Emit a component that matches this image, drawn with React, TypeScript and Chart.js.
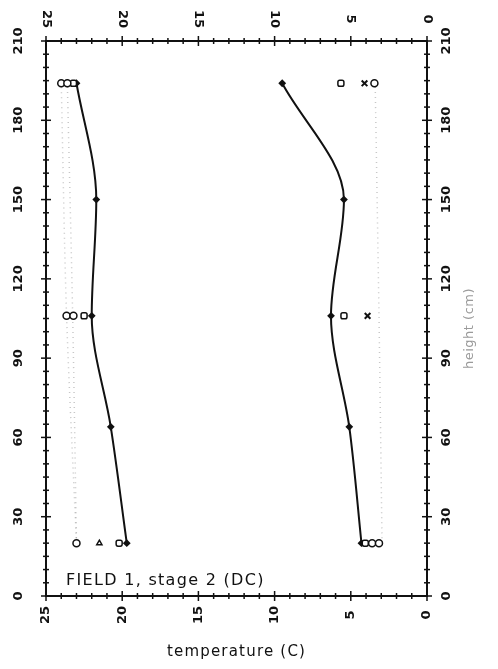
import React, { useEffect, useRef } from "react";
import { Chart, registerables } from "chart.js";

Chart.register(...registerables);

// Measurement heights (cm) of the fitted profiles
const profileHeights = [20, 64, 106, 150, 194];
// Fitted temperature profiles (°C)
const warmProfile = [19.7, 20.75, 22.0, 21.7, 23.0];
const coolProfile = [4.3, 5.1, 6.3, 5.45, 9.5];

// Faint dotted traces
const traceHeights = [20, 106, 194];
const warmTraceA = [23.0, 23.65, 24.0];
const warmTraceB = [23.0, 23.25, 23.6];
const coolTrace = [2.95, 3.15, 3.4];

// Open circles
const circleTemps = [24.0, 23.6, 23.65, 23.2, 23.0, 3.45, 3.6, 3.15];
const circleHeights = [194, 194, 106, 106, 20, 194, 20, 20];

// Open squares
const squareTemps = [23.2, 22.5, 20.2, 5.65, 5.45, 4.05];
const squareHeights = [194, 106, 20, 194, 106, 20];

// Open triangles
const triangleTemps = [21.5];
const triangleHeights = [20];

// Crossed markers
const crossTemps = [4.1, 3.9];
const crossHeights = [194, 106];

// Axis ticks
const tempTicks = [25, 20, 15, 10, 5, 0];
const heightTicks = [0, 30, 60, 90, 120, 150, 180, 210];

const annotation = "FIELD 1, stage 2 (DC)";
const xTitle = "temperature (C)";
const yTitle = "height (cm)";

const pts = (xs: number[], ys: number[]) => xs.map((x, i) => ({ x, y: ys[i] }));

const framePlugin = {
  id: "framePlugin",
  afterDraw(chart: any) {
    const { ctx, chartArea: a, scales } = chart;
    const xs = scales.x;
    const ys = scales.y;
    ctx.save();
    ctx.strokeStyle = "#111";
    ctx.lineCap = "butt";

    const seg = (x1: number, y1: number, x2: number, y2: number) => {
      ctx.beginPath();
      ctx.moveTo(x1, y1);
      ctx.lineTo(x2, y2);
      ctx.stroke();
    };

    // frame
    ctx.lineWidth = 2;
    ctx.strokeRect(a.left, a.top, a.right - a.left, a.bottom - a.top);

    // temperature ticks (every 1 °C)
    ctx.lineWidth = 1.5;
    for (let t = 0; t <= 25; t++) {
      const px = xs.getPixelForValue(t);
      const len = t % 5 === 0 ? 5 : 3;
      seg(px, a.top - len, px, a.top + len);
      seg(px, a.bottom - len, px, a.bottom + len);
    }
    // height ticks (every 5 cm)
    for (let h = 0; h <= 210; h += 5) {
      const py = ys.getPixelForValue(h);
      const len = h % 30 === 0 ? 5 : 3;
      seg(a.left - len, py, a.left + len, py);
      seg(a.right - len, py, a.right + len, py);
    }

    ctx.fillStyle = "#111";
    ctx.textAlign = "center";
    ctx.textBaseline = "middle";
    ctx.font = 'bold 13px "DejaVu Sans"';

    const rotText = (s: string, x: number, y: number, ang: number) => {
      ctx.save();
      ctx.translate(x, y);
      ctx.rotate(ang);
      ctx.fillText(s, 0, 0);
      ctx.restore();
    };

    tempTicks.forEach((t) => {
      const px = xs.getPixelForValue(t);
      rotText(String(t), px, a.bottom + 19, -Math.PI / 2);
      rotText(String(t), px, a.top - 22, Math.PI / 2);
    });
    heightTicks.forEach((h) => {
      const py = ys.getPixelForValue(h);
      rotText(String(h), a.left - 27, py, -Math.PI / 2);
      rotText(String(h), a.right + 20, py, -Math.PI / 2);
    });

    // axis titles
    ctx.font = '15px "DejaVu Sans"';
    (ctx as any).letterSpacing = "1.2px";
    ctx.fillText(xTitle, (a.left + a.right) / 2, a.bottom + 56);

    ctx.fillStyle = "#9a9a9a";
    ctx.font = '13px "DejaVu Sans"';
    (ctx as any).letterSpacing = "0.5px";
    rotText(yTitle, a.right + 43, (a.top + a.bottom) / 2 + 10, -Math.PI / 2);

    // panel annotation
    ctx.fillStyle = "#111";
    ctx.textAlign = "left";
    ctx.textBaseline = "alphabetic";
    ctx.font = '16px "DejaVu Sans"';
    (ctx as any).letterSpacing = "1.3px";
    ctx.fillText(annotation, a.left + 20, a.bottom - 11);

    ctx.restore();
  },
};

export default function App() {
  const canvasRef = useRef<HTMLCanvasElement | null>(null);

  useEffect(() => {
    if (!canvasRef.current) return;
    const marker = {
      showLine: false,
      borderColor: "#111",
      backgroundColor: "#fff",
      borderWidth: 1.5,
      pointRadius: 3.5,
    };
    const trace = {
      showLine: true,
      borderColor: "rgba(0,0,0,0.22)",
      borderWidth: 1.5,
      borderDash: [1, 4],
      pointRadius: 0,
      tension: 0.3,
    };
    // profiles are smooth functions of height: interpolate along the y axis
    const profile = {
      showLine: true,
      indexAxis: "y",
      cubicInterpolationMode: "monotone",
      borderColor: "#111",
      borderWidth: 2,
      pointStyle: "rectRot",
      pointRadius: 2.5,
      backgroundColor: "#111",
      pointBackgroundColor: "#111",
      pointBorderColor: "#111",
    };

    const chart = new Chart(canvasRef.current, {
      type: "scatter",
      data: {
        datasets: [
          { ...marker, data: pts(circleTemps, circleHeights), pointStyle: "circle" },
          { ...marker, data: pts(squareTemps, squareHeights), pointStyle: "rectRounded" },
          { ...marker, data: pts(triangleTemps, triangleHeights), pointStyle: "triangle", pointRadius: 3 },
          { ...marker, data: pts(crossTemps, crossHeights), pointStyle: "crossRot", pointRadius: 4, borderWidth: 2 },
          { ...profile, data: pts(warmProfile, profileHeights) },
          { ...profile, data: pts(coolProfile, profileHeights) },
          { ...trace, data: pts(warmTraceA, traceHeights) },
          { ...trace, data: pts(warmTraceB, traceHeights) },
          { ...trace, data: pts(coolTrace, traceHeights) },
        ] as any,
      },
      options: {
        animation: false,
        responsive: false,
        layout: { padding: { left: 46, right: 71, top: 41, bottom: 73 } },
        plugins: { legend: { display: false }, tooltip: { enabled: false } },
        scales: {
          x: { type: "linear", min: 0, max: 25, reverse: true, display: false },
          y: { type: "linear", min: 0, max: 210, display: false },
        },
      },
      plugins: [framePlugin],
    });
    return () => chart.destroy();
  }, []);

  return (
    <div style={{ position: "absolute", left: 0, top: 0, width: 498, height: 669, background: "#fff" }}>
      <canvas ref={canvasRef} width={498} height={669} style={{ display: "block" }} />
    </div>
  );
}
